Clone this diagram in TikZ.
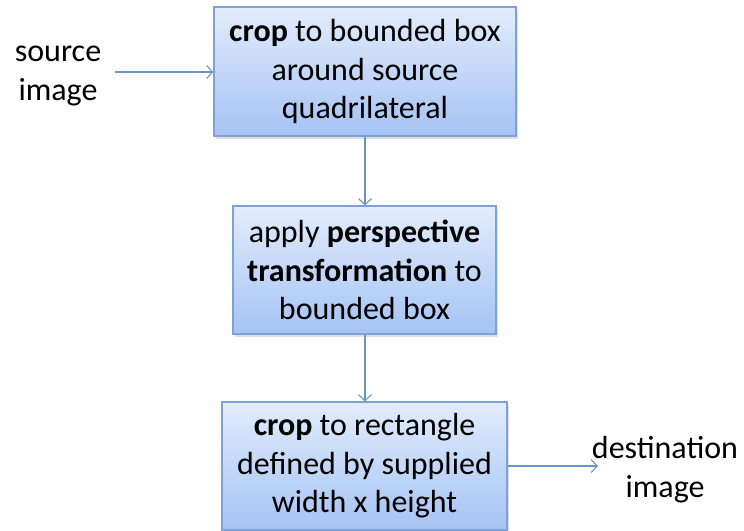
\documentclass[tikz,border=0pt]{standalone}
\usepackage{fontspec}
\setmainfont{Carlito}
\usetikzlibrary{arrows.meta,shadows}

\definecolor{boxtop}{HTML}{E2ECFC}
\definecolor{boxbottom}{HTML}{A5C3F4}
\definecolor{boxline}{HTML}{7EA2D8}
\definecolor{flowline}{HTML}{6A93CC}

\tikzset{
  procbox/.style={draw=boxline, line width=1.2pt, top color=boxtop, bottom color=boxbottom,
    align=center, inner sep=0pt, font=\fontsize{32}{38.5}\selectfont,
    drop shadow={opacity=0.25, shadow xshift=2pt, shadow yshift=-2.5pt}},
  freetext/.style={align=center, inner sep=0pt, font=\fontsize{32}{39}\selectfont},
  flow/.style={draw=flowline, line width=1.1pt,
    -{Straight Barb[length=6pt,width=13pt,line width=1.1pt]}}
}

\begin{document}
\begin{tikzpicture}[x=1pt,y=-1pt]
  \useasboundingbox (0,0) rectangle (744,530);
  \clip (0,0) rectangle (744,530);
  \fill[white] (0,0) rectangle (744,530);

  % the three processing steps
  \node[procbox, minimum width=302pt, minimum height=129pt] (crop1) at (365,71.5)
    {\textbf{crop} to bounded box\\around source\\quadrilateral};
  \node[procbox, minimum width=263pt, minimum height=128pt] (persp) at (364.5,270)
    {apply \textbf{perspective}\\\textbf{transformation} to\\bounded box};
  \node[procbox, minimum width=285pt, minimum height=128pt] (crop2) at (364.5,466)
    {\textbf{crop} to rectangle\\defined by supplied\\width x height};

  % input and output labels
  \node[freetext] (src) at (58,76) {source\\image};
  \node[freetext] (dst) at (665,470) {destination\\image};
  \coordinate (srcend) at (115,72);
  \coordinate (dstend) at (598,466);

  % connectors
  \draw[flow] (srcend) -- (crop1.west |- srcend);
  \draw[flow] (crop1.south -| 365,0) -- (persp.north -| 365,0);
  \draw[flow] (persp.south -| 365,0) -- (crop2.north -| 365,0);
  \draw[flow] (crop2.east |- dstend) -- (dstend);
\end{tikzpicture}
\end{document}
